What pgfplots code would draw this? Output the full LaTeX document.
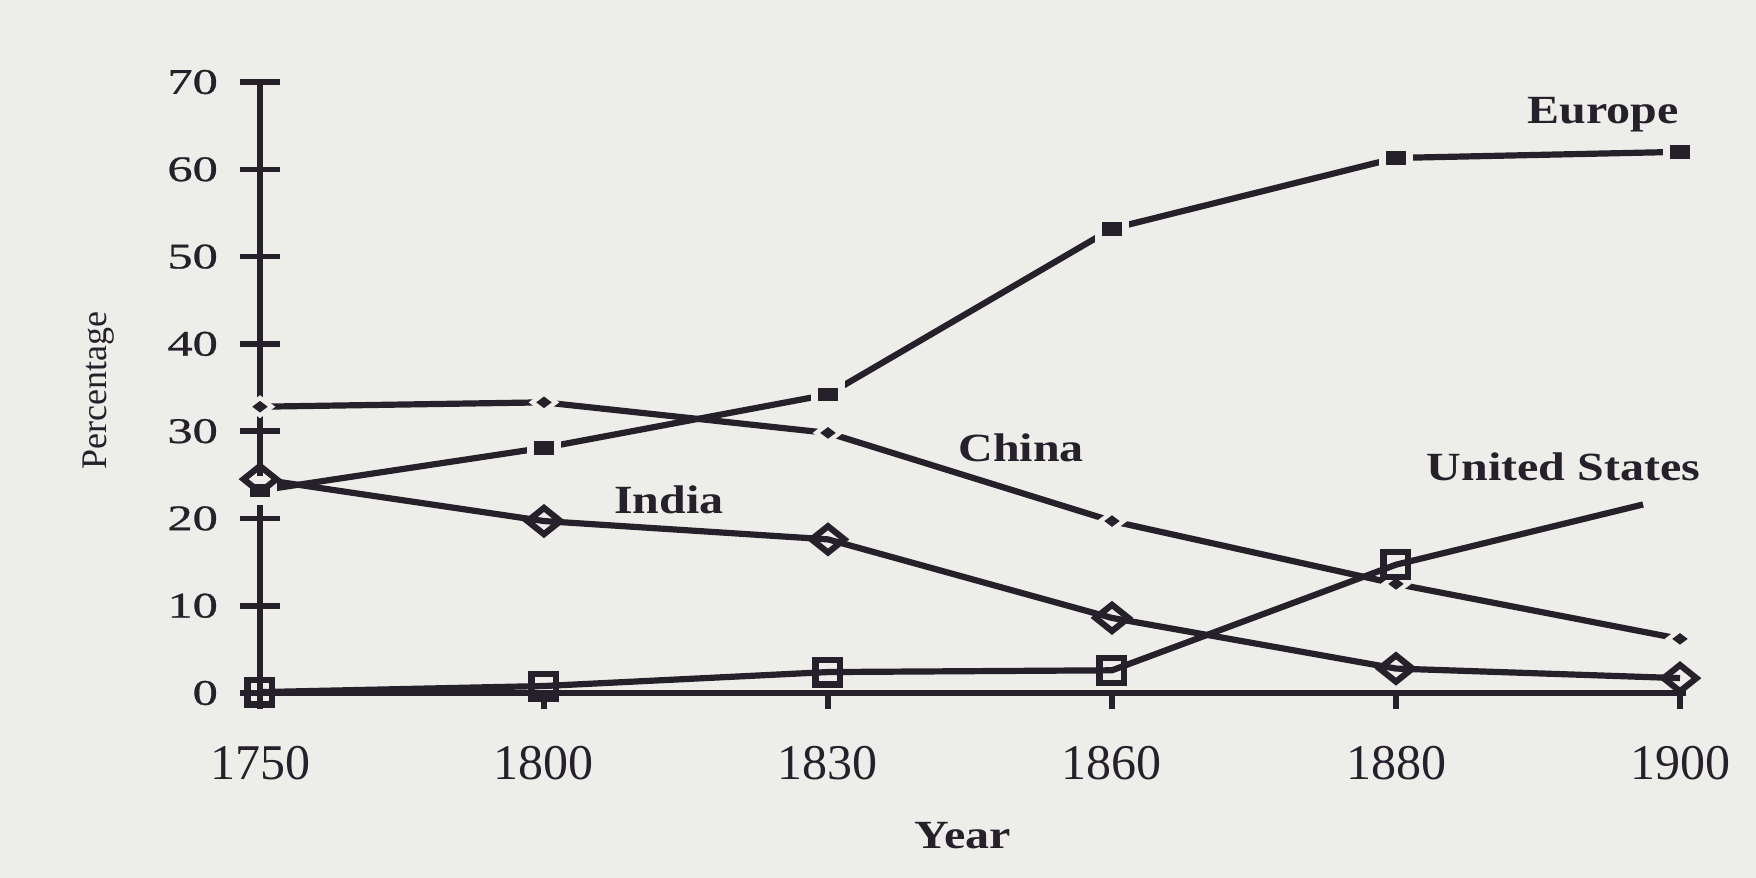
\documentclass[border=0pt]{standalone}
\usepackage{fontspec}
\setmainfont{Liberation Serif}
\newfontfamily\wide{Liberation Serif}[FakeStretch=1.2]
\newfontfamily\ynum{Liberation Serif}[FakeStretch=1.4, FakeBold=0.8]
\usepackage{pgfplots}
\pgfplotsset{compat=1.18}
\definecolor{ink}{RGB}{38,32,42}
\definecolor{paper}{RGB}{237,237,234}
\begin{document}
\begin{tikzpicture}
\fill[paper] (-65pt,-46.25pt) rectangle (374pt,173.25pt);
\useasboundingbox (-65pt,-46.25pt) rectangle (374pt,173.25pt);
\pgfplotsset{base/.style={at={(0pt,0pt)}, anchor=south west, scale only axis,
  width=356.42pt, height=152.75pt, xmin=0, xmax=5.02, ymin=0, ymax=70, clip=false}}
% axis lines and x ticks (drawn below the data)
\begin{axis}[base, axis x line*=bottom, axis y line*=left,
  axis line style={line width=1.7pt, ink},
  xtick={0,1,2,3,4,5}, xticklabels={1750,1800,1830,1860,1880,1900},
  ytick=\empty, tick align=outside, major tick length=3.9pt,
  tick style={line width=1.4pt, ink},
  xticklabel style={font=\fontsize{12.5}{14}\selectfont, text=ink, yshift=-6pt}]
\end{axis}
% data axis with centred y ticks
\begin{axis}[base, axis x line*=bottom, axis y line*=left,
  axis line style={draw=none},
  xtick=\empty, ytick={0,10,...,70}, tick align=center, major tick length=10pt,
  tick style={line width=1.4pt, ink},
  yticklabel style={font=\ynum\fontsize{9}{11}\selectfont, text=ink, anchor=east, xshift=-2pt},
  /pgf/number format/assume math mode=true]
% Europe
\addplot[ink, line width=1.55pt] coordinates {(0,23.2)(1,28.1)(2,34.2)(3,53.2)(4,61.3)(5,62.0)};
\addplot[only marks, mark=square*, mark size=4pt, draw=paper, fill=paper, mark options={yscale=0.85, draw=paper, fill=paper}] coordinates {(0,23.2)(1,28.1)(2,34.2)(3,53.2)(4,61.3)(5,62.0)};
\addplot[only marks, mark=square*, mark size=2.1pt, ink, mark options={xscale=1.05, yscale=0.72, draw=ink, fill=ink}] coordinates {(0,23.2)(1,28.1)(2,34.2)(3,53.2)(4,61.3)(5,62.0)};
% China
\addplot[ink, line width=1.55pt] coordinates {(0,32.8)(1,33.3)(2,29.8)(3,19.7)(4,12.5)(5,6.2)};
\addplot[only marks, mark=diamond*, mark size=3.5pt, draw=paper, fill=paper, mark options={rotate=90, draw=paper, fill=paper}] coordinates {(0,32.8)(1,33.3)(2,29.8)(3,19.7)(4,12.5)(5,6.2)};
\addplot[only marks, mark=diamond*, mark size=1.6pt, ink, mark options={rotate=90, draw=ink, fill=ink}] coordinates {(0,32.8)(1,33.3)(2,29.8)(3,19.7)(4,12.5)(5,6.2)};
% India
\addplot[ink, line width=1.55pt, mark=square, mark size=2.9pt, mark options={yscale=0.8, rotate=45, fill=paper, solid}] coordinates {(0,24.5)(1,19.7)(2,17.6)(3,8.6)(4,2.8)(5,1.7)};
% United States
\addplot[ink, line width=1.55pt, mark=square, mark size=3.1pt, mark options={fill=paper, solid}, mark indices={1,2,3,4,5}] coordinates {(0,0.1)(1,0.8)(2,2.4)(3,2.6)(4,14.7)(4.87,21.6)};
% labels
\node[anchor=base, text=ink, font=\wide\bfseries\fontsize{10}{12}\selectfont] at (axis cs:4.73,65.3) {Europe};
\node[anchor=base, text=ink, font=\wide\bfseries\fontsize{10}{12}\selectfont] at (axis cs:2.68,26.5) {China};
\node[anchor=base, text=ink, font=\wide\bfseries\fontsize{10}{12}\selectfont] at (axis cs:1.44,20.6) {India};
\node[anchor=base, text=ink, font=\wide\bfseries\fontsize{10}{12}\selectfont] at (axis cs:4.59,24.4) {United States};
\node[anchor=base, text=ink, font=\wide\bfseries\fontsize{10}{12}\selectfont] at (axis cs:2.475,-17.76) {Year};
\node[rotate=90, text=ink, font=\fontsize{9}{11}\selectfont] at (axis cs:-0.57,34.7) {Percentage};
\end{axis}
\end{tikzpicture}
\end{document}
